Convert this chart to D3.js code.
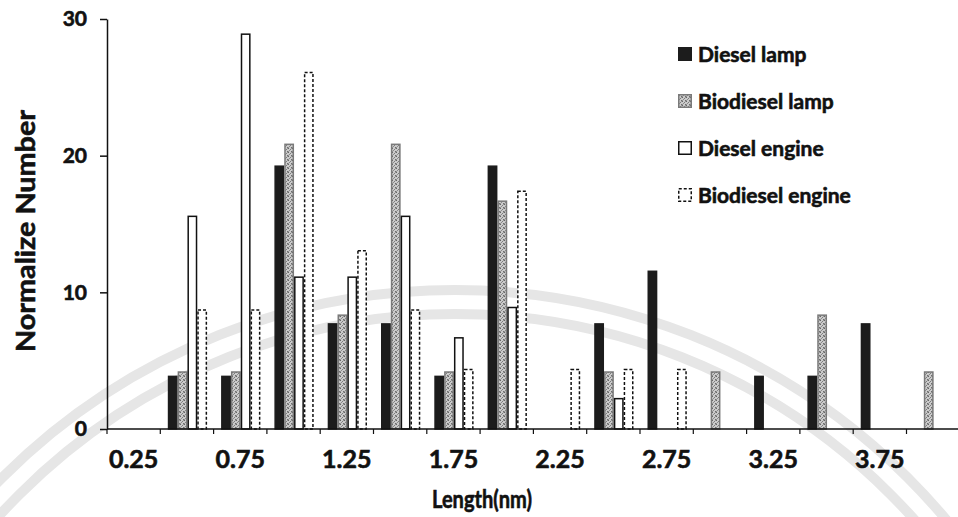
<!DOCTYPE html>
<html>
<head>
<meta charset="utf-8">
<script src="https://cdn.jsdelivr.net/npm/d3@7"></script>
<style>
  body { margin: 0; background: #fff; }
  svg { display: block; }
  text { font-family: Lato, "Open Sans", sans-serif; font-weight: 700; fill: #111; stroke: #111; stroke-width: 0.6px; }
</style>
</head>
<body>
<svg id="chart" width="958" height="517"></svg>
<script>
// length classes (nm)
var categories = ['0.25', '0.5', '0.75', '1', '1.25', '1.5', '1.75', '2', '2.25', '2.5', '2.75', '3', '3.25', '3.5', '3.75', '4'];
var tickLabels = ['0.25', '0.75', '1.25', '1.75', '2.25', '2.75', '3.25', '3.75'];
var seriesNames = ['Diesel lamp', 'Biodiesel lamp', 'Diesel engine', 'Biodiesel engine'];

var dieselLamp      = [0, 3.85, 3.85, 19.23, 7.69, 7.69, 3.85, 19.23, 0, 7.69, 11.54, 0, 3.85, 3.85, 7.69, 0];
var biodieselLamp   = [0, 4.17, 4.17, 20.83, 8.33, 20.83, 4.17, 16.67, 0, 4.17, 0, 4.17, 0, 8.33, 0, 4.17];
var dieselEngine    = [0, 15.56, 28.89, 11.11, 11.11, 15.56, 6.67, 8.89, 0, 2.22, 0, 0, 0, 0, 0, 0];
var biodieselEngine = [0, 8.7, 8.7, 26.09, 13.04, 8.7, 4.35, 17.39, 4.35, 4.35, 4.35, 0, 0, 0, 0, 0];

var yTicks = [0, 10, 20, 30];

var allSeries = [dieselLamp, biodieselLamp, dieselEngine, biodieselEngine];

var svg = d3.select('#chart');

// speckled pattern for the grey bars
var defs = svg.append('defs');
var pat = defs.append('pattern')
  .attr('id', 'speckle')
  .attr('width', 4).attr('height', 4)
  .attr('patternUnits', 'userSpaceOnUse');
pat.append('rect').attr('width', 4).attr('height', 4).attr('fill', '#cbcbcb');
[[0, 0, '#666'], [2, 1, '#7c7c7c'], [1, 2, '#8a8a8a'], [3, 3, '#6e6e6e'], [3, 0, '#9a9a9a'], [0, 3, '#959595']]
  .forEach(function (p) {
    pat.append('rect').attr('x', p[0]).attr('y', p[1]).attr('width', 1).attr('height', 1).attr('fill', p[2]);
  });

// faint watermark rings
var wm = svg.append('g');
[640, 616].forEach(function (r) {
  wm.append('circle')
    .attr('cx', 455).attr('cy', 930).attr('r', r)
    .attr('fill', 'none')
    .attr('stroke', '#e6e6e6')
    .attr('stroke-width', 10);
});

var plotLeft = 107, plotTop = 19, plotBottom = 429;
var catWidth = 53.3;

var x = d3.scaleBand()
  .domain(categories)
  .range([plotLeft, plotLeft + catWidth * categories.length])
  .padding(0);

var x1 = d3.scaleBand()
  .domain(d3.range(seriesNames.length))
  .range([7.5, x.bandwidth() - 6.5])
  .padding(0);

var y = d3.scaleLinear()
  .domain([0, 30])
  .range([plotBottom, plotTop]);

var styles = [
  { fill: '#1c1c1c', stroke: '#1c1c1c', dash: null },
  { fill: 'url(#speckle)', stroke: '#7a7a7a', dash: null },
  { fill: '#fff', stroke: '#111', dash: null },
  { fill: '#fff', stroke: '#111', dash: '3,2' }
];

// bars
var barGroup = svg.append('g');
allSeries.forEach(function (values, s) {
  barGroup.append('g')
    .selectAll('rect')
    .data(values.map(function (v, i) { return { cat: categories[i], value: v }; })
      .filter(function (d) { return d.value > 0; }))
    .enter().append('rect')
    .attr('x', function (d) { return x(d.cat) + x1(s) + 0.75; })
    .attr('y', function (d) { return y(d.value); })
    .attr('width', x1.bandwidth() - 1.5)
    .attr('height', function (d) { return y(0) - y(d.value); })
    .attr('fill', styles[s].fill)
    .attr('stroke', styles[s].stroke)
    .attr('stroke-width', 1.5)
    .attr('stroke-dasharray', styles[s].dash);
});

// y axis
var yAxis = svg.append('g')
  .attr('transform', 'translate(' + plotLeft + ',0)')
  .call(d3.axisLeft(y).tickValues(yTicks).tickSize(7).tickPadding(13).tickSizeOuter(0));
yAxis.select('.domain').attr('stroke', '#111').attr('stroke-width', 1.5);
yAxis.selectAll('.tick line').attr('stroke', '#111').attr('stroke-width', 1.5);
yAxis.selectAll('.tick text')
  .style('font-family', 'Lato, sans-serif')
  .style('font-weight', 700)
  .style('font-size', '21px')
  .attr('fill', '#111');

// x axis
var xAxisG = svg.append('g');
xAxisG.append('line')
  .attr('x1', plotLeft).attr('x2', 958)
  .attr('y1', y(0)).attr('y2', y(0))
  .attr('stroke', '#111').attr('stroke-width', 1.5);
xAxisG.selectAll('line.tk')
  .data(categories)
  .enter().append('line')
  .attr('class', 'tk')
  .attr('x1', function (d) { return x(d); })
  .attr('x2', function (d) { return x(d); })
  .attr('y1', y(0)).attr('y2', y(0) + 5)
  .attr('stroke', '#111').attr('stroke-width', 1.2);
xAxisG.selectAll('text')
  .data(tickLabels)
  .enter().append('text')
  .attr('x', function (d) { return x(String(+d)) + x.bandwidth() / 2; })
  .attr('y', 468)
  .attr('text-anchor', 'middle')
  .style('font-size', '25px')
  .text(function (d) { return d; });

// axis titles (a bit condensed, like the original Calibri)
svg.append('text')
  .attr('x', 432).attr('y', 508)
  .attr('textLength', 100)
  .attr('lengthAdjust', 'spacingAndGlyphs')
  .style('font-size', '24px')
  .text('Length(nm)');

svg.append('text')
  .attr('transform', 'translate(35,352) rotate(-90)')
  .attr('textLength', 242)
  .attr('lengthAdjust', 'spacingAndGlyphs')
  .style('font-size', '27px')
  .text('Normalize Number');

// legend
var legend = svg.append('g').attr('transform', 'translate(678,54)');
seriesNames.forEach(function (name, i) {
  var row = legend.append('g').attr('transform', 'translate(0,' + (i * 47) + ')');
  row.append('rect')
    .attr('x', 0.75).attr('y', -6.25)
    .attr('width', 12.5).attr('height', 12.5)
    .attr('fill', styles[i].fill)
    .attr('stroke', styles[i].stroke)
    .attr('stroke-width', 1.5)
    .attr('stroke-dasharray', styles[i].dash);
  row.append('text')
    .attr('x', 20).attr('y', 0)
    .attr('dy', '0.36em')
    .style('font-size', '21px')
    .text(name);
});
</script>
</body>
</html>
